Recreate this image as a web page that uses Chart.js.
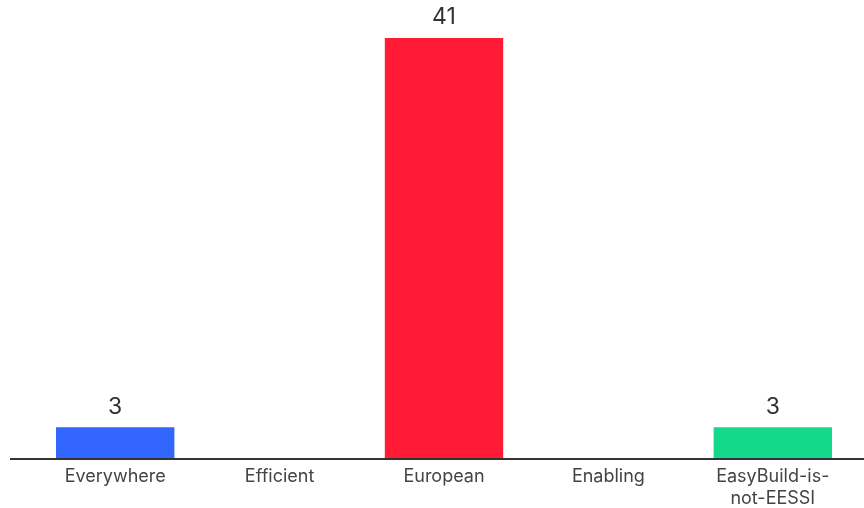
<!DOCTYPE html>
<html>
<head>
<meta charset="utf-8">
<script src="https://cdn.jsdelivr.net/npm/chart.js@4"></script>
<style>
  html, body { margin: 0; padding: 0; background: #fff; }
  #wrap { width: 864px; height: 508px; }
</style>
</head>
<body>
<div id="wrap"><canvas id="barChart"></canvas></div>
<script>
// data
var categories = ['Everywhere', 'Efficient', 'European', 'Enabling', ['EasyBuild-is-', 'not-EESSI']];
var counts = [3, 0, 41, 0, 3];
var barColors = ['#3366ff', '#3366ff', '#ff1b35', '#ff1b35', '#14d98a'];

// value labels above each bar, skipping empty ones
var valueLabels = {
    id: 'valueLabels',
    afterDatasetsDraw: function (chart) {
        var ctx = chart.ctx;
        var meta = chart.getDatasetMeta(0);
        ctx.save();
        ctx.font = '23px Inter, "Noto Sans", sans-serif';
        ctx.fillStyle = '#333';
        ctx.textAlign = 'center';
        ctx.textBaseline = 'bottom';
        meta.data.forEach(function (bar, i) {
            if (counts[i] > 0) ctx.fillText(counts[i], bar.x, bar.y - 9);
        });
        ctx.restore();
    }
};

// baseline runs wider than the plot area
var baseLine = {
    id: 'baseLine',
    afterDraw: function (chart) {
        var ctx = chart.ctx;
        var y = chart.chartArea.bottom + 1;
        ctx.save();
        ctx.strokeStyle = '#333';
        ctx.lineWidth = 2;
        ctx.beginPath();
        ctx.moveTo(10, y);
        ctx.lineTo(chart.width, y);
        ctx.stroke();
        ctx.restore();
    }
};

var ctx = document.getElementById('barChart').getContext('2d');
var barChart = new Chart(ctx, {
    type: 'bar',
    data: {
        labels: categories,
        datasets: [{
            data: counts,
            backgroundColor: barColors,
            categoryPercentage: 0.72,
            barPercentage: 1
        }]
    },
    options: {
        responsive: true,
        maintainAspectRatio: false,
        animation: false,
        layout: { padding: { top: 38, left: 33, right: 9, bottom: 0 } },
        plugins: {
            legend: { display: false },
            tooltip: { enabled: false }
        },
        scales: {
            x: {
                grid: { display: false },
                border: { display: false },
                afterFit: function (scale) { scale.height = 50; },
                ticks: {
                    color: '#444',
                    font: { size: 18, family: 'Inter, "Noto Sans", sans-serif', lineHeight: 1.2 },
                    padding: 0,
                    maxRotation: 0,
                    autoSkip: false
                }
            },
            y: {
                display: false,
                min: 0,
                max: 41
            }
        }
    },
    plugins: [valueLabels, baseLine]
});
</script>
</body>
</html>
